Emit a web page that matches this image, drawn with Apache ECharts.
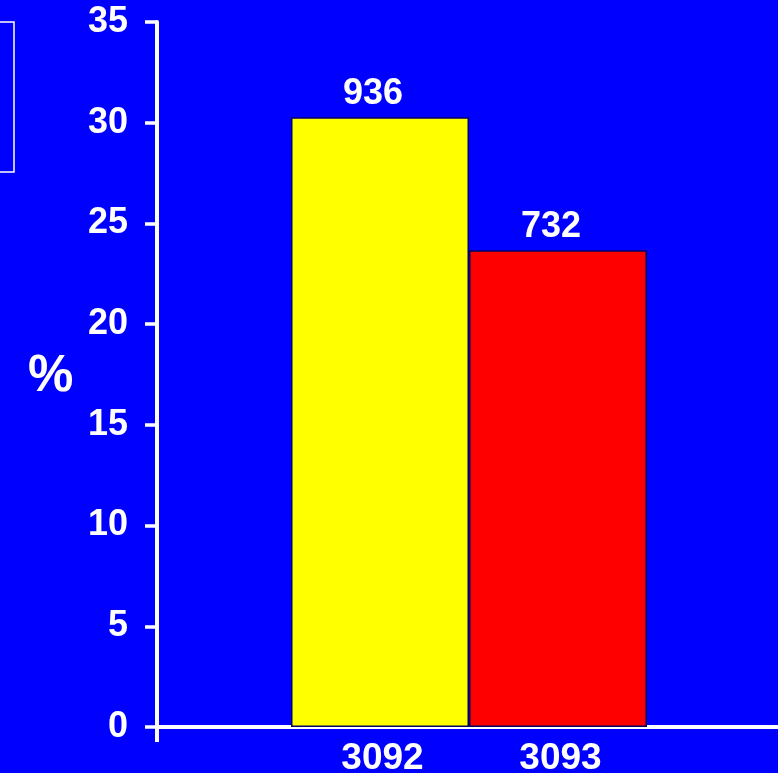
<!DOCTYPE html>
<html>
<head>
<meta charset="utf-8">
<script src="https://cdn.jsdelivr.net/npm/echarts@6/dist/echarts.min.js"></script>
<style>
html, body { margin: 0; padding: 0; background: #0000FF; }
#c1 { width: 778px; height: 773px; }
</style>
</head>
<body>
<div id="c1"></div>
<script>
var categories = ['3092', '3093'];
var percents = [30.27, 23.67];
var counts = [936, 732];
var barColors = ['#FFFF00', '#FF0000'];
var yTicks = [0, 35, 5]; // min, max, interval

var font = 'Liberation Sans, Arial, sans-serif';

var ec_main = echarts.init(document.getElementById('c1'));

var ec_main_option = {
    backgroundColor: '#0000FF',
    animation: false,
    title: {
        text: '%',
        left: 23,
        top: 346,
        textStyle: { color: '#fff', fontSize: 51, fontWeight: 'bold', fontFamily: font }
    },
    // the cropped box at the top left
    graphic: [{
        type: 'rect',
        shape: { x: -100, y: 22, width: 114, height: 150 },
        style: { fill: 'none', stroke: '#fff', lineWidth: 1.5 }
    }],
    grid: [
        { left: 157, right: -10, top: 22, bottom: 46, outerBoundsMode: 'none' },   // axes frame
        { left: 291, right: 131, top: 22, bottom: 46, outerBoundsMode: 'none' }    // bars
    ],
    xAxis: [{
        gridIndex: 0,
        type: 'value',
        min: 0, max: 1,
        axisLine: { show: true, lineStyle: { color: '#fff', width: 4 } },
        axisTick: { show: true, customValues: [0], length: 15, lineStyle: { color: '#fff', width: 4 } },
        axisLabel: { show: false },
        splitLine: { show: false }
    }, {
        gridIndex: 1,
        type: 'category',
        data: categories,
        axisLine: { show: false },
        axisTick: { show: false },
        axisLabel: {
            color: '#fff', fontSize: 37, fontWeight: 'bold', fontFamily: font, margin: 13,
            padding: [0, 0, 0, 5]
        }
    }],
    yAxis: [{
        gridIndex: 0,
        type: 'value',
        min: yTicks[0], max: yTicks[1], interval: yTicks[2],
        axisLine: { show: true, lineStyle: { color: '#fff', width: 4 } },
        axisTick: { show: true, length: 12, lineStyle: { color: '#fff', width: 3.5 } },
        axisLabel: {
            color: '#fff', fontSize: 36, fontWeight: 'bold', fontFamily: font, margin: 29
        },
        splitLine: { show: false }
    }, {
        gridIndex: 1,
        type: 'value',
        min: yTicks[0], max: yTicks[1],
        show: false
    }],
    series: [{
        type: 'bar',
        xAxisIndex: 1,
        yAxisIndex: 1,
        barCategoryGap: '0%',
        data: percents.map(function (v, i) {
            return { value: v, itemStyle: { color: barColors[i] } };
        }),
        itemStyle: { borderColor: '#000066', borderWidth: 1.5 },
        label: {
            show: true,
            position: 'top',
            distance: 5,
            offset: [-7, 0],
            color: '#fff', fontSize: 36, fontWeight: 'bold', fontFamily: font,
            formatter: function (p) { return counts[p.dataIndex]; }
        }
    }]
};

ec_main.setOption(ec_main_option);
</script>
</body>
</html>
